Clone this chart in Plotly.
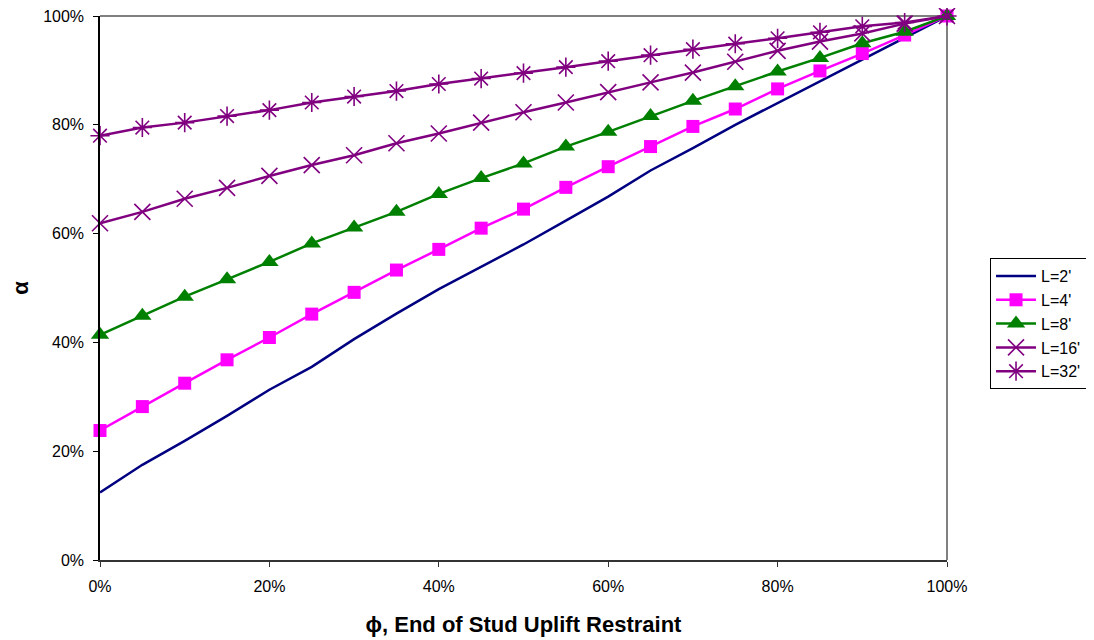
import plotly.graph_objects as go

phi = [i * 0.05 for i in range(21)]

L2 = [12.4, 17.5, 21.9, 26.5, 31.3, 35.5, 40.6, 45.3, 49.8, 53.9, 58.0,
      62.4, 66.8, 71.6, 75.7, 80.0, 84.0, 87.9, 92.0, 95.9, 100.0]
L4 = [23.8, 28.2, 32.5, 36.8, 40.9, 45.2, 49.2, 53.3, 57.1, 61.0, 64.5,
      68.5, 72.3, 76.0, 79.7, 82.9, 86.6, 89.9, 93.1, 96.5, 100.0]
L8 = [41.4, 44.9, 48.4, 51.6, 54.8, 58.2, 61.1, 64.0, 67.3, 70.2, 72.9,
      76.0, 78.7, 81.6, 84.4, 87.1, 89.8, 92.3, 95.0, 97.1, 100.0]
L16 = [61.9, 64.0, 66.4, 68.4, 70.6, 72.6, 74.4, 76.6, 78.4, 80.4, 82.3,
       84.1, 86.0, 87.8, 89.6, 91.6, 93.6, 95.3, 96.8, 98.6, 100.0]
L32 = [78.0, 79.5, 80.4, 81.6, 82.7, 84.1, 85.2, 86.2, 87.5, 88.5, 89.5,
       90.6, 91.7, 92.8, 93.9, 94.9, 95.9, 97.0, 98.1, 98.8, 100.0]

names = ["L=2'", "L=4'", "L=8'", "L=16'", "L=32'"]
series = [L2, L4, L8, L16, L32]
colors = ["#000080", "#FF00FF", "#008000", "#800080", "#800080"]
symbols = [None, "square", "triangle-up", "x-thin-open", "asterisk-open"]
msizes = [0, 13, 16, 16, 16]

fig = go.Figure()
for name, vals, col, sym, ms in zip(names, series, colors, symbols, msizes):
    y = [v / 100 for v in vals]
    if sym is None:
        fig.add_trace(go.Scatter(x=phi, y=y, name=name, mode="lines",
                                 line=dict(color=col, width=2.5)))
    else:
        mk = dict(symbol=sym, size=ms, color=col)
        if "open" in sym:
            mk["line"] = dict(color=col, width=1.6)
        fig.add_trace(go.Scatter(x=phi, y=y, name=name, mode="lines+markers",
                                 line=dict(color=col, width=2.5), marker=mk,
                                 cliponaxis=False))

font = "Liberation Sans, Arial, sans-serif"
fig.update_layout(
    width=1086, height=632,
    margin=dict(l=92, r=147, t=8, b=80, autoexpand=False),
    paper_bgcolor="white", plot_bgcolor="white",
    font=dict(family=font, size=16, color="black"),
    showlegend=True,
    legend=dict(x=1.0508, y=0.555, xanchor="left", yanchor="top",
                bordercolor="black", borderwidth=1, bgcolor="white",
                font=dict(size=16), tracegroupgap=0, itemwidth=40),
    xaxis=dict(range=[0, 1], tickvals=[0, 0.2, 0.4, 0.6, 0.8, 1.0],
               tickformat=".0%", showgrid=False, zeroline=False,
               showline=True, linecolor="#333333", linewidth=2,
               ticks="outside", ticklen=5, tickcolor="#333333",
               ticklabelstandoff=6, automargin=False,
               ticklabeloverflow="allow",
               title=dict(text="<b>\u03d5, End of Stud Uplift Restraint</b>",
                          font=dict(size=22), standoff=22)),
    yaxis=dict(range=[0, 1], tickvals=[0, 0.2, 0.4, 0.6, 0.8, 1.0],
               tickformat=".0%", showgrid=False, zeroline=False,
               showline=True, linecolor="black", linewidth=1.5,
               ticks="outside", ticklen=5, tickcolor="black",
               ticklabelstandoff=6, automargin=False,
               ticklabeloverflow="allow",
               title=dict(text="<b>\u03b1</b>", font=dict(size=22), standoff=24)),
    shapes=[dict(type="line", xref="paper", yref="paper", x0=0, x1=1, y0=1, y1=1,
                 line=dict(color="#808080", width=2), layer="below"),
            dict(type="line", xref="paper", yref="paper", x0=1, x1=1, y0=0, y1=1,
                 line=dict(color="#808080", width=2), layer="below")],
)

fig.write_html("out.html")
